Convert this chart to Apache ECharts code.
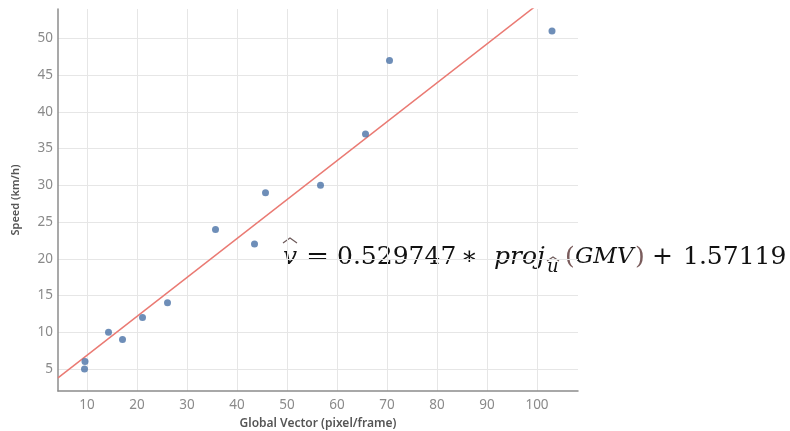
<!DOCTYPE html>
<html>
<head>
    <meta charset="UTF-8">
    <title></title>
    <style>
        html, body { margin: 0; padding: 0; background: #fff; }
        #container { width: 790px; height: 431px; }
    </style>
</head>
<body>
    <div id="container"></div>
    <script src="https://cdn.jsdelivr.net/npm/echarts@6/dist/echarts.min.js"></script>
    <script>
        // measured points: global motion vector vs speed
        var gmv = [9.6, 9.5, 14.3, 17.1, 21.1, 26.1, 35.7, 43.5, 45.7, 56.7, 65.7, 70.5, 103];
        var speed = [6, 5, 10, 9, 12, 14, 24, 22, 29, 30, 37, 47, 51];
        var xTicks = [10, 20, 30, 40, 50, 60, 70, 80, 90, 100];
        var yTicks = [5, 10, 15, 20, 25, 30, 35, 40, 45, 50];
        // fitted line, as printed on the chart
        var slope = 0.529747;
        var intercept = 1.57119;
        var xMin = 4.2, xMax = 108.2, yMin = 2, yMax = 54;

        var points = gmv.map(function (g, i) { return [g, speed[i]]; });
        var trend = [xMin, xMax].map(function (g) { return [g, slope * g + intercept]; });

        var eqFont = '"DejaVu Serif", "Liberation Serif", serif';
        function eq(txt, x, y, opts) {
            opts = opts || {};
            return {
                type: 'text', x: x, y: y, silent: true,
                scaleX: opts.sx || 1,
                style: {
                    text: txt,
                    font: (opts.italic ? 'italic ' : '') + (opts.size || 25) + 'px ' + eqFont,
                    fill: opts.color || '#111',
                    verticalAlign: 'middle'
                }
            };
        }
        // little circumflex over a letter
        function hat(x, y, w, h) {
            return {
                type: 'polyline', silent: true,
                shape: { points: [[x, y], [x + w / 2, y - h], [x + w, y]] },
                style: { stroke: '#6d5a5a', lineWidth: 1.2, fill: null }
            };
        }

        var myChart = echarts.init(document.getElementById('container'));
        myChart.setOption({
            animation: false,
            grid: { left: 58, right: 212, top: 9, bottom: 40, outerBoundsMode: 'none', containLabel: false },
            xAxis: {
                type: 'value',
                min: xMin,
                max: xMax,
                name: 'Global Vector (pixel/frame)',
                nameLocation: 'middle',
                nameGap: 27,
                nameTextStyle: { color: '#555', fontSize: 12, fontWeight: 600, fontFamily: 'Noto Sans' },
                axisLine: { lineStyle: { color: '#8c8c8c', width: 1.5 } },
                axisTick: { show: false, customValues: xTicks },
                axisLabel: { customValues: xTicks, color: '#8a8a8a', fontSize: 13.5, fontFamily: 'Noto Sans', margin: 7 },
                splitLine: { lineStyle: { color: '#e6e6e6' } }
            },
            yAxis: {
                type: 'value',
                min: yMin,
                max: yMax,
                name: 'Speed (km/h)',
                nameLocation: 'middle',
                nameGap: 37,
                nameTextStyle: { color: '#555', fontSize: 11, fontWeight: 600, fontFamily: 'Noto Sans' },
                axisLine: { show: true, lineStyle: { color: '#8c8c8c', width: 1.5 } },
                axisTick: { show: false, customValues: yTicks },
                axisLabel: { customValues: yTicks, color: '#8a8a8a', fontSize: 13.5, fontFamily: 'Noto Sans', margin: 5 },
                splitLine: { lineStyle: { color: '#e6e6e6' } }
            },
            series: [
                {
                    type: 'line',
                    data: trend,
                    symbol: 'none',
                    clip: true,
                    lineStyle: { color: '#ea7a73', width: 1.5 },
                    z: 2
                },
                {
                    type: 'scatter',
                    data: points,
                    symbolSize: 7,
                    itemStyle: { color: '#4a72a6' },
                    z: 3
                }
            ],
            graphic: [
                eq('v', 283, 257, { italic: true }),
                hat(283, 243, 14, 5),
                eq('=', 306, 257, { sx: 1.1 }),
                eq('0.529747', 337, 257),
                eq('\u2217', 461, 257),
                eq('proj', 494, 257, { italic: true }),
                eq('u', 547, 267, { italic: true, size: 18 }),
                hat(547, 261, 12, 4),
                eq('(', 565, 257, { color: '#7a5c5c' }),
                eq('GMV', 575, 257, { italic: true, size: 23 }),
                eq(')', 635, 257, { color: '#7a5c5c' }),
                eq('+', 652, 257),
                eq('1.57119', 683, 257)
            ]
        });
    </script>
</body>
</html>
